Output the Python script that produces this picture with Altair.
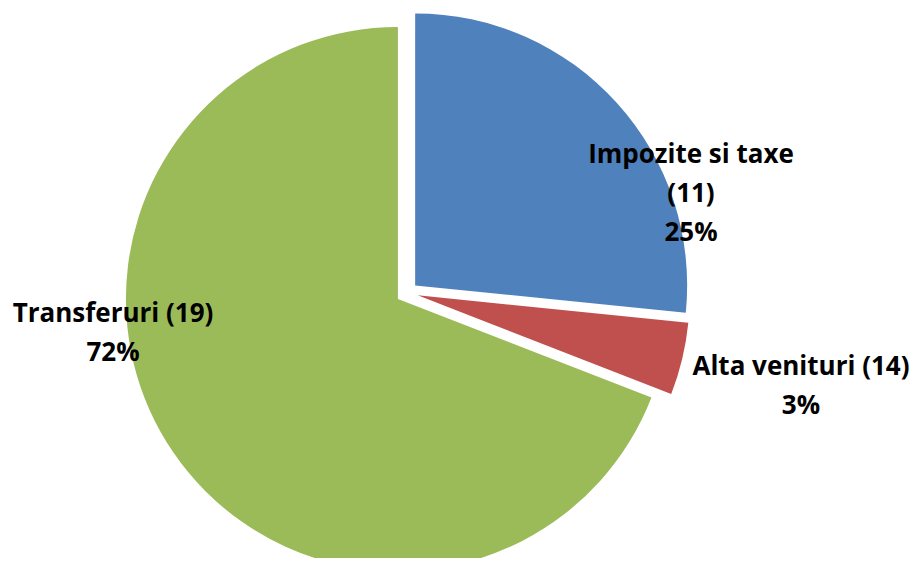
import altair as alt
import pandas as pd

# ---- data ----
categories = ["Impozite si taxe", "Alta venituri", "Transferuri"]
codes = ["11", "14", "19"]
shares = [26.6, 4.3, 69.1]          # visual share of the circle (%)
pct_labels = ["25%", "3%", "72%"]    # percentages printed on the chart
colors = ["#4F81BD", "#C0504D", "#9BBB59"]

label_lines = [
    [categories[0], f"({codes[0]})", pct_labels[0]],
    [f"{categories[1]} ({codes[1]})", pct_labels[1]],
    [f"{categories[2]} ({codes[2]})", pct_labels[2]],
]

# ---- layout (style) ----
CX, CY = 399.0, 284.8   # pie centre, px
EXPLODE = 11.0          # explode distance, px
RADIUS = 272
label_pos = {            # anchor of first line (centre x, baseline y)
    categories[0]: (683, 155),
    categories[1]: (793, 367),
    categories[2]: (105, 314),
}

slices = pd.DataFrame({"cat": categories, "value": shares, "order": range(3)})
labels = pd.DataFrame({
    "cat": categories,
    "lines": label_lines,
    "lx": [label_pos[c][0] for c in categories],
    "ly": [label_pos[c][1] for c in categories],
})

pie = (
    alt.Chart(slices)
    .transform_joinaggregate(total="sum(value)")
    .transform_window(cum="sum(value)", frame=[None, 0])
    .transform_calculate(
        t0="2*PI*(datum.cum - datum.value)/datum.total",
        t1="2*PI*datum.cum/datum.total",
    )
    .transform_calculate(mid="(datum.t0 + datum.t1)/2")
    .transform_calculate(
        px=f"{CX} + {EXPLODE}*sin(datum.mid)",
        py=f"{CY} - {EXPLODE}*cos(datum.mid)",
    )
    .mark_arc(radius=RADIUS)
    .encode(
        x=alt.X("px:Q", scale=None, axis=None),
        y=alt.Y("py:Q", scale=None, axis=None),
        theta=alt.Theta("t0:Q", scale=None),
        theta2="t1:Q",
        color=alt.Color("cat:N", scale=alt.Scale(domain=categories, range=colors), legend=None),
    )
)

text = (
    alt.Chart(labels)
    .mark_text(
        font="Open Sans", fontSize=26, fontWeight="bold", color="#000000",
        align="center", baseline="alphabetic", lineHeight=39,
    )
    .encode(
        x=alt.X("lx:Q", scale=None, axis=None),
        y=alt.Y("ly:Q", scale=None, axis=None),
        text="lines",
    )
)

chart = (
    alt.layer(pie, text)
    .properties(width=902, height=550, autosize=alt.AutoSizeParams(type="none"), padding=0)
    .configure_view(stroke=None)
)

chart.save("out.html", embed_options={"renderer": "svg", "actions": False})
